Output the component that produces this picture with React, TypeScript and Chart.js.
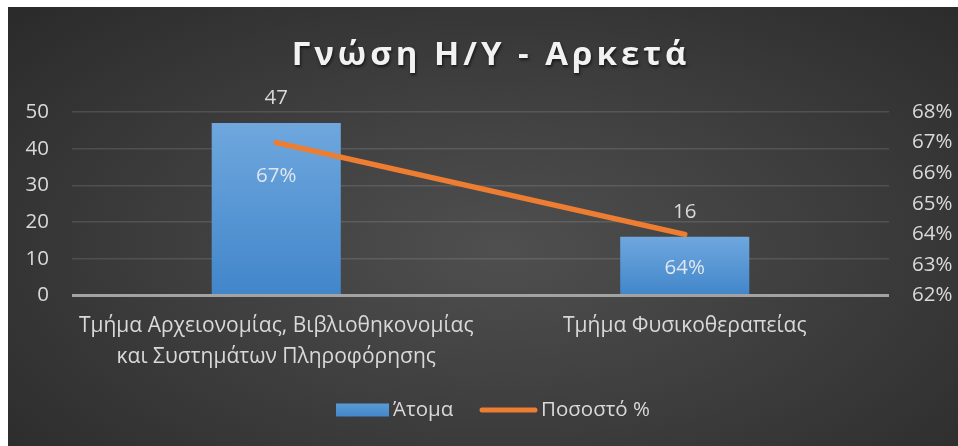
import React, { useEffect, useRef } from 'react';
import { Chart, registerables } from 'chart.js';

Chart.register(...registerables);

const chartTitle = 'Γνώση Η/Υ - Αρκετά';
const categories: (string | string[])[] = [
  ['Τμήμα Αρχειονομίας, Βιβλιοθηκονομίας', 'και Συστημάτων Πληροφόρησης'],
  'Τμήμα Φυσικοθεραπείας',
];
const peopleLabel = 'Άτομα';
const peopleValues = [47, 16];
const percentLabel = 'Ποσοστό %';
const percentValues = [67, 64];
const leftTickValues = [0, 10, 20, 30, 40, 50];
const rightTickValues = [62, 63, 64, 65, 66, 67, 68];

const FONT = "'Open Sans', 'Noto Sans', sans-serif";
const TEXT = '#d9d9d9';
const ORANGE = '#ED7D31';

const titlePlugin = {
  id: 'customTitle',
  afterDraw(chart: any) {
    const ctx = chart.ctx;
    ctx.save();
    ctx.font = `bold 33px ${FONT}`;
    (ctx as any).letterSpacing = '4px';
    ctx.fillStyle = '#f2f2f2';
    ctx.textAlign = 'center';
    ctx.textBaseline = 'alphabetic';
    ctx.shadowColor = 'rgba(0,0,0,0.6)';
    ctx.shadowOffsetX = 1;
    ctx.shadowOffsetY = 2;
    ctx.shadowBlur = 3;
    ctx.fillText(chartTitle, 483, 58);
    ctx.restore();
  },
};

const labelsPlugin = {
  id: 'valueLabels',
  afterDatasetsDraw(chart: any) {
    const ctx = chart.ctx;
    ctx.save();
    ctx.font = `20.5px ${FONT}`;
    ctx.textAlign = 'center';
    ctx.textBaseline = 'middle';
    const barMeta = chart.getDatasetMeta(0);
    barMeta.data.forEach((el: any, i: number) => {
      ctx.fillStyle = TEXT;
      ctx.fillText(String(peopleValues[i]), el.x, el.y - 25);
    });
    const lineMeta = chart.getDatasetMeta(1);
    lineMeta.data.forEach((el: any, i: number) => {
      ctx.fillStyle = '#dfe6ee';
      ctx.fillText(percentValues[i] + '%', el.x, el.y + 34);
    });
    ctx.restore();
  },
};

const legendPlugin = {
  id: 'customLegend',
  afterDraw(chart: any) {
    const ctx = chart.ctx;
    ctx.save();
    const cy = 403;
    const g = ctx.createLinearGradient(0, cy - 7, 0, cy + 7);
    g.addColorStop(0, '#5b9bd5');
    g.addColorStop(1, '#4287cb');
    ctx.fillStyle = g;
    ctx.fillRect(328, cy - 6.5, 53, 13);
    ctx.font = `20.5px ${FONT}`;
    ctx.fillStyle = TEXT;
    ctx.textBaseline = 'middle';
    ctx.textAlign = 'left';
    ctx.fillText(chart.data.datasets[0].label, 385, cy);
    ctx.strokeStyle = ORANGE;
    ctx.lineWidth = 5;
    ctx.lineCap = 'round';
    ctx.beginPath();
    ctx.moveTo(474, cy);
    ctx.lineTo(527, cy);
    ctx.stroke();
    ctx.fillText(chart.data.datasets[1].label, 533, cy);
    ctx.restore();
  },
};

function barGradient(context: any) {
  const chart = context.chart;
  const area = chart.chartArea;
  if (!area) return '#5b9bd5';
  const yScale = chart.scales.y;
  const v = context.raw as number;
  const top = yScale.getPixelForValue(v);
  const bottom = yScale.getPixelForValue(0);
  const g = chart.ctx.createLinearGradient(0, top, 0, bottom);
  g.addColorStop(0, '#6fa7de');
  g.addColorStop(1, '#4186ca');
  return g;
}

export default function App() {
  const canvasRef = useRef<HTMLCanvasElement | null>(null);

  useEffect(() => {
    if (!canvasRef.current) return;
    const chart = new Chart(canvasRef.current, {
      type: 'bar',
      data: {
        labels: categories,
        datasets: [
          {
            type: 'bar',
            label: peopleLabel,
            data: peopleValues,
            yAxisID: 'y',
            backgroundColor: barGradient,
            borderWidth: 0,
            barPercentage: 0.316,
            categoryPercentage: 1,
            order: 1,
          },
          {
            type: 'line',
            label: percentLabel,
            data: percentValues,
            yAxisID: 'y1',
            borderColor: ORANGE,
            borderWidth: 5.5,
            borderCapStyle: 'round',
            pointRadius: 0,
            pointHoverRadius: 0,
            tension: 0,
            order: 0,
          } as any,
        ],
      },
      options: {
        animation: false,
        responsive: true,
        maintainAspectRatio: false,
        layout: { padding: { top: 105, left: 0, right: 0, bottom: 0 } },
        plugins: {
          legend: { display: false },
          title: { display: false },
          tooltip: { enabled: false },
        },
        scales: {
          x: {
            grid: { display: false, drawTicks: false },
            border: { display: false },
            ticks: {
              color: TEXT,
              font: { family: FONT, size: 21, lineHeight: 1.43 },
              padding: 16,
              maxRotation: 0,
              autoSkip: false,
            },
            afterFit(scale: any) {
              scale.height = 150.5;
            },
          },
          y: {
            position: 'left',
            min: leftTickValues[0],
            max: leftTickValues[leftTickValues.length - 1],
            afterBuildTicks(scale: any) {
              scale.ticks = leftTickValues.map((v) => ({ value: v }));
            },
            ticks: {
              color: TEXT,
              font: { family: FONT, size: 20.5 },
              padding: 23,
            },
            grid: {
              drawTicks: false,
              color: (c: any) => (c.tick && c.tick.value === 0 ? '#a3a3a3' : 'rgba(255,255,255,0.12)'),
              lineWidth: (c: any) => (c.tick && c.tick.value === 0 ? 3 : 1.5),
            },
            border: { display: false },
            afterFit(scale: any) {
              scale.width = 64;
            },
          },
          y1: {
            position: 'right',
            min: rightTickValues[0],
            max: rightTickValues[rightTickValues.length - 1],
            afterBuildTicks(scale: any) {
              scale.ticks = rightTickValues.map((v) => ({ value: v }));
            },
            ticks: {
              color: TEXT,
              font: { family: FONT, size: 20.5 },
              padding: 23,
              callback: (v: any) => v + '%',
            },
            grid: { display: false, drawTicks: false },
            border: { display: false },
            afterFit(scale: any) {
              scale.width = 69;
            },
          },
        },
      },
      plugins: [labelsPlugin, titlePlugin, legendPlugin],
    });
    return () => chart.destroy();
  }, []);

  return (
    <div
      style={{
        position: 'absolute',
        left: 8,
        top: 7,
        width: 950,
        height: 439,
        background:
          'radial-gradient(ellipse 75% 85% at 52% 55%, #4f4f4f 0%, #3e3e3e 45%, #282828 100%)',
      }}
    >
      <canvas ref={canvasRef} />
    </div>
  );
}
